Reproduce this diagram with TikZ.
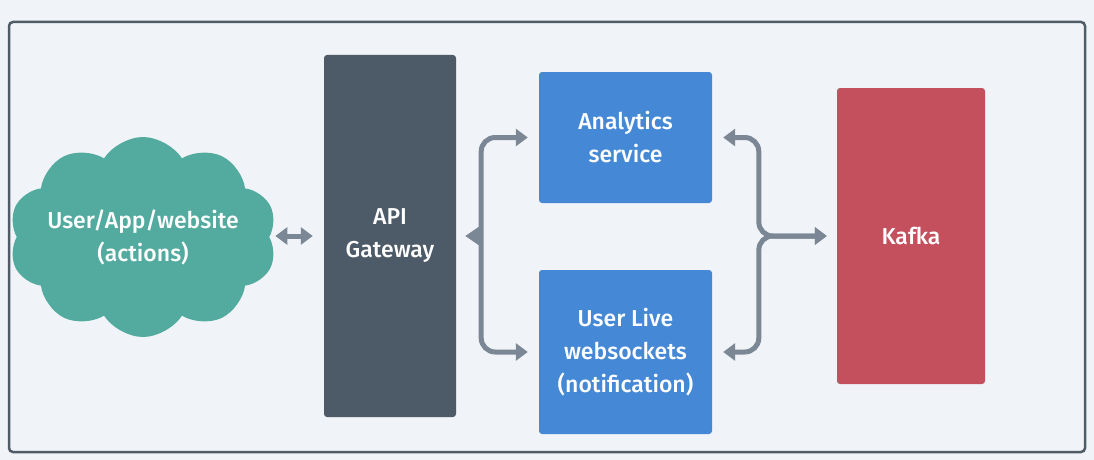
\documentclass[tikz,border=0pt]{standalone}
\usepackage{fontspec}
\setmainfont{Fira Sans Medium}
\usetikzlibrary{arrows.meta,shapes.symbols}

\definecolor{bgcol}{HTML}{F0F4F8}
\definecolor{framecol}{HTML}{4F5B67}
\definecolor{gwcol}{HTML}{4D5A68}
\definecolor{svccol}{HTML}{4588D6}
\definecolor{kafkacol}{HTML}{C4505E}
\definecolor{cloudcol}{HTML}{52AB9E}
\definecolor{conncol}{HTML}{7B8794}

\tikzset{
	box/.style={rectangle, rounded corners=3pt, text=white, align=center, inner sep=0pt,
		font=\fontsize{23}{33}\selectfont},
	conn/.style={draw=conncol, line width=5pt, rounded corners=14pt,
		>={Triangle[length=12pt,width=17pt]}}
}

\begin{document}
\begin{tikzpicture}[x=1pt, y=-1pt]
			% Draw the background and frame
			\fill[bgcol] (0,0) rectangle (1094,460);
			\useasboundingbox (0,0) rectangle (1094,460);
			\draw[framecol, line width=2.5pt, rounded corners=4pt] (9,22) rectangle (1085,452);
			
			% Draw the blocks
			\node[cloud, cloud puffs=10, cloud puff arc=115, aspect=1.3, fill=cloudcol, inner sep=0pt,
				minimum width=268pt, minimum height=200pt] (cl) at (143,237) {};
			\node[box] (cltext) at (cl.center) {User/App/website\\(actions)};
			\node[box, fill=gwcol, minimum width=132pt, minimum height=362pt] (gw) at (390,236) {API\\Gateway};
			\node[box, fill=svccol, minimum width=173pt, minimum height=131pt] (an) at (625.5,137.5) {Analytics\\service};
			\node[box, fill=svccol, minimum width=173pt, minimum height=164pt] (ul) at (625.5,352) {User Live\\websockets\\(notification)};
			\node[box, fill=kafkacol, minimum width=148pt, minimum height=296pt] (kf) at (911,236) {Kafka};
			
			% Draw the junction points
			\coordinate (lj) at ([xshift=25pt]gw.east);
			\coordinate (rj) at ([xshift=-78pt]kf.west);
			
			% Draw the connectors
			\draw[conn, <->, shorten <=6pt, shorten >=11pt] (cl.east |- gw.west) -- (gw.west);
			\draw[conn, <->, shorten <=11pt, shorten >=11pt] (an.west) -| (lj) |- (ul.west);
			\draw[conn, -{Triangle[length=14pt,width=18pt]}, shorten >=9pt] (lj) -- (gw.east);
			\draw[conn, <->, shorten <=11pt, shorten >=10pt] (an.east) -| (rj) -- (kf.west);
			\draw[conn, <->, shorten <=11pt, shorten >=10pt] (ul.east) -| (rj) -- (kf.west);
			
		\end{tikzpicture}
\end{document}
